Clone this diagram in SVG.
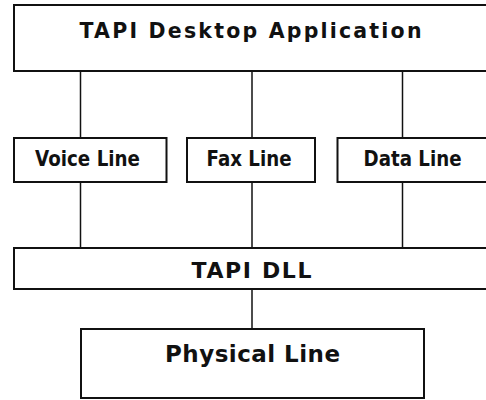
<svg xmlns="http://www.w3.org/2000/svg" width="486" height="400" viewBox="0 0 486 400">
<style>
.box{fill:#ffffff;stroke:#111111;stroke-width:2}
.conn line{stroke:#111111;stroke-width:1.5}
.lbl{font-family:"DejaVu Sans",Verdana,sans-serif;font-weight:bold;fill:#111111}
</style>
<rect x="0" y="0" width="486" height="400" fill="#ffffff"/>
<g id="connectors" class="conn">
<line x1="80.5" y1="71" x2="80.5" y2="138"/>
<line x1="252" y1="71" x2="252" y2="138"/>
<line x1="402.5" y1="71" x2="402.5" y2="138"/>
<line x1="80.5" y1="182" x2="80.5" y2="248"/>
<line x1="252" y1="182" x2="252" y2="248"/>
<line x1="402.5" y1="182" x2="402.5" y2="248"/>
<line x1="252" y1="289" x2="252" y2="329"/>
</g>
<g id="tapi-desktop-application">
<rect class="box" x="14" y="5" width="490" height="66"/>
<text class="lbl" x="79.5" y="37.5" font-size="20.5" textLength="342" lengthAdjust="spacing">TAPI Desktop Application</text>
</g>
<g id="voice-line">
<rect class="box" x="14" y="138" width="152.5" height="44"/>
<text class="lbl" x="35" y="166" font-size="21.5" textLength="105" lengthAdjust="spacingAndGlyphs">Voice Line</text>
</g>
<g id="fax-line">
<rect class="box" x="187" y="138" width="128" height="44"/>
<text class="lbl" x="206.5" y="166" font-size="21.5" textLength="85" lengthAdjust="spacingAndGlyphs">Fax Line</text>
</g>
<g id="data-line">
<rect class="box" x="337.5" y="138" width="160" height="44"/>
<text class="lbl" x="363.5" y="166" font-size="21.5" textLength="98" lengthAdjust="spacingAndGlyphs">Data Line</text>
</g>
<g id="tapi-dll">
<rect class="box" x="14" y="248" width="490" height="41"/>
<text class="lbl" x="191.5" y="277.5" font-size="22" textLength="120" lengthAdjust="spacing">TAPI DLL</text>
</g>
<g id="physical-line">
<rect class="box" x="81" y="329" width="343" height="69"/>
<text class="lbl" x="165" y="361.5" font-size="23" textLength="175" lengthAdjust="spacing">Physical Line</text>
</g>
</svg>
